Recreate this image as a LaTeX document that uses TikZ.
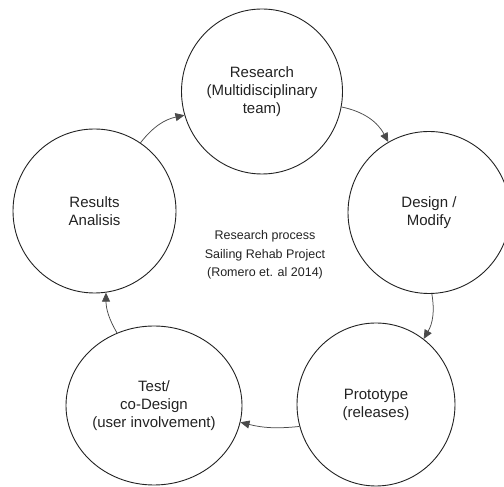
\documentclass[tikz,border=0pt]{standalone}
\usepackage{fontspec}
\setmainfont{Liberation Sans}
\usepackage{tikz}
\usetikzlibrary{positioning}
\usetikzlibrary{shapes.geometric}
\usetikzlibrary{arrows.meta}

\definecolor{inkgray}{HTML}{222222}
\definecolor{arrowgray}{HTML}{4A4A4A}

\tikzset{
        stage/.style={ellipse, draw=inkgray, line width=0.9pt, inner sep=0pt,
                minimum width=162pt, minimum height=162pt, align=center,
                text=inkgray, font=\fontsize{15}{18}\selectfont},
        flow/.style={draw=arrowgray, line width=0.75pt,
                -{Triangle[length=9pt,width=8pt]}}
}

\begin{document}
\begin{tikzpicture}[x=1pt,y=1pt]
        \useasboundingbox (0,0) rectangle (504,487);
        %\draw[help lines] (0,0) grid[step=50] (504,487);
        \node[stage, minimum width=161pt, minimum height=165pt] (research) at (262,395.5) {Research\\(Multidisciplinary\\team)};
        \node[stage] (design) at (429,274.5) {Design /\\Modify};
        \node[stage, minimum width=158pt, minimum height=163pt] (prototype) at (376,82.5) {Prototype\\(releases)};
        \node[stage, minimum width=176pt, minimum height=159pt] (test) at (154,81.5) {Test/\\co-Design\\(user involvement)};
        \node[stage, minimum width=163pt, minimum height=164pt] (results) at (94.5,276) {Results\\Analisis};

        \node[align=center, text=inkgray, font=\fontsize{12.5}{18.3}\selectfont] (process) at (265,232)
                {Research process\\Sailing Rehab Project\\(Romero et. al 2014)};

        \draw[flow] (research.-11) to[bend left=25] (design.120);
        \draw[flow] (design.-88) to[bend left=20] (prototype.54);
        \draw[flow] (prototype.-164) to[bend left=10] (test.-11);
        \draw[flow] (test.117) to[bend left=15] (results.-82);
        \draw[flow] (results.56) to[bend left=20] (research.-163);
\end{tikzpicture}
\end{document}
